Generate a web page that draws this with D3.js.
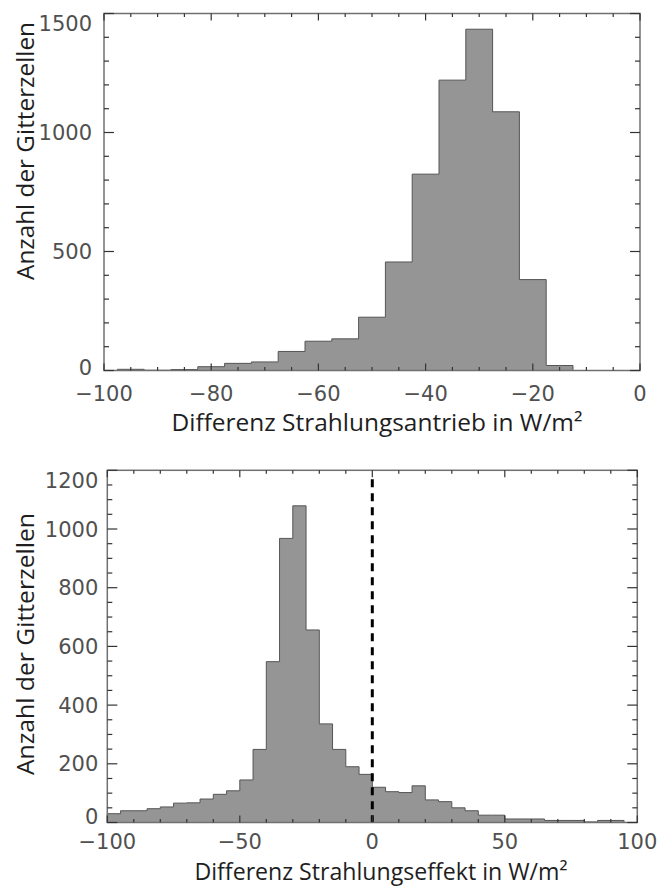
<html>
<head>
<meta charset="UTF-8">
<title>Strahlungsantrieb / Strahlungseffekt</title>
<script src="https://cdn.jsdelivr.net/npm/d3@7/dist/d3.min.js"></script>
<style>
  body { margin: 0; background: #fff; }
  .tick-lab { font-family: "DejaVu Sans", sans-serif; font-size: 21px; fill: #505050; }
  .ax-title { font-family: "Open Sans", "Noto Sans", sans-serif; fill: #1e1e1e; }
</style>
</head>
<body>
<div id="chart"></div>
<script>
// --- oberes Histogramm: Differenz Strahlungsantrieb ---
var forcingBinLeft = [-97.5, -92.5, -87.5, -82.5, -77.5, -72.5, -67.5, -62.5, -57.5,
                      -52.5, -47.5, -42.5, -37.5, -32.5, -27.5, -22.5, -17.5];
var forcingCounts  = [5, 1, 4, 16, 30, 36, 80, 123, 133,
                      224, 456, 825, 1220, 1434, 1087, 382, 21];
var forcingXTicks  = [-100, -80, -60, -40, -20, 0];
var forcingYTicks  = [0, 500, 1000, 1500];

// --- unteres Histogramm: Differenz Strahlungseffekt ---
var effectBinLeft = [-100, -95, -90, -85, -80, -75, -70, -65, -60, -55,
                     -50, -45, -40, -35, -30, -25, -20, -15, -10, -5,
                     0, 5, 10, 15, 20, 25, 30, 35, 40, 45,
                     50, 55, 60, 65, 70, 75, 80, 85, 90, 95];
var effectCounts  = [30, 40, 40, 47, 53, 66, 67, 80, 96, 108,
                     145, 249, 548, 968, 1079, 656, 336, 249, 190, 164,
                     120, 105, 102, 125, 77, 71, 50, 40, 25, 25,
                     12, 12, 12, 7, 7, 7, 2, 7, 7, 0];
var effectXTicks  = [-100, -50, 0, 50, 100];
var effectYTicks  = [0, 200, 400, 600, 800, 1000, 1200];

var W = 669, H = 887;
var svg = d3.select("#chart").append("svg")
    .attr("width", W).attr("height", H)
    .style("display", "block");
svg.append("rect").attr("width", W).attr("height", H).attr("fill", "#fff");

function fmt(v) { return v < 0 ? "\u2212" + Math.abs(v) : String(v); }

function drawHist(c) {
    var x = d3.scaleLinear().domain(c.xDom).range([c.left, c.right]);
    var y = d3.scaleLinear().domain(c.yDom).range([c.bottom, c.top]);
    var g = svg.append("g");
    var bins = c.binLeft.map(function(b, i) { return { x0: b, x1: b + c.binW, n: c.counts[i] }; });

    // treppenkurve: flaeche + umriss
    var pts = [[bins[0].x0, 0]];
    bins.forEach(function(d) { pts.push([d.x0, d.n]); });
    var last = bins[bins.length - 1];
    pts.push([last.x1, last.n]); pts.push([last.x1, 0]);
    var line = d3.line().x(function(p) { return x(p[0]); }).y(function(p) { return y(p[1]); })
        .curve(d3.curveStepAfter);
    g.append("path").attr("d", line(pts) + "Z").attr("fill", "#959595").attr("stroke", "none");
    g.append("path").attr("d", line(pts)).attr("fill", "none")
        .attr("stroke", "#555").attr("stroke-width", 1);

    // nulllinie gestrichelt
    if (c.zeroLine) {
        g.append("line")
            .attr("x1", x(0)).attr("x2", x(0))
            .attr("y1", c.top + 9).attr("y2", c.bottom)
            .attr("stroke", "#000").attr("stroke-width", 3)
            .attr("stroke-dasharray", "8,6");
    }

    // rahmen
    g.append("rect")
        .attr("x", c.left).attr("y", c.top)
        .attr("width", c.right - c.left).attr("height", c.bottom - c.top)
        .attr("fill", "none").attr("stroke", "#707070").attr("stroke-width", 1.5);

    // ticks innen, alle vier seiten
    var xMaj = 7, xMin = 3.5, yMaj = 10, yMin = 5;
    var tk = g.append("g").attr("stroke", "#333").attr("stroke-width", 1.2);
    d3.range(c.xDom[0], c.xDom[1] + 0.001, c.xMinorStep).forEach(function(v) {
        var isMaj = c.xTicks.indexOf(v) >= 0, L = isMaj ? xMaj : xMin;
        tk.append("line").attr("x1", x(v)).attr("x2", x(v)).attr("y1", c.bottom).attr("y2", c.bottom - L);
        tk.append("line").attr("x1", x(v)).attr("x2", x(v)).attr("y1", c.top).attr("y2", c.top + L);
    });
    d3.range(c.yDom[0], c.yDom[1] + 0.001, c.yMinorStep).forEach(function(v) {
        var isMaj = c.yTicks.indexOf(v) >= 0, L = isMaj ? yMaj : yMin;
        tk.append("line").attr("y1", y(v)).attr("y2", y(v)).attr("x1", c.left).attr("x2", c.left + L);
        tk.append("line").attr("y1", y(v)).attr("y2", y(v)).attr("x1", c.right).attr("x2", c.right - L);
    });

    // tick-beschriftung
    g.selectAll("text.xl").data(c.xTicks).enter().append("text")
        .attr("class", "tick-lab")
        .attr("x", function(d) { return x(d); })
        .attr("y", c.bottom + c.xLabOff)
        .attr("text-anchor", "middle")
        .text(fmt);
    g.selectAll("text.yl").data(c.yTicks).enter().append("text")
        .attr("class", "tick-lab")
        .attr("x", c.left - c.yLabGap)
        .attr("y", function(d) {
            var yy = y(d);
            yy = Math.max(yy, c.top + 10);
            yy = Math.min(yy, c.bottom - c.yLabBotPad);
            return yy + 7.5;
        })
        .attr("text-anchor", "end")
        .text(fmt);

    // achsentitel
    g.append("text").attr("class", "ax-title")
        .attr("x", c.xTitleX).attr("y", c.xTitleY)
        .attr("text-anchor", "middle")
        .attr("font-size", 23)
        .attr("textLength", c.xTitleLen).attr("lengthAdjust", "spacingAndGlyphs")
        .text(c.xTitle);
    g.append("text").attr("class", "ax-title")
        .attr("transform", "translate(" + c.yTitleX + "," + c.yTitleY + ") rotate(-90)")
        .attr("text-anchor", "middle")
        .attr("font-size", 24)
        .attr("textLength", c.yTitleLen).attr("lengthAdjust", "spacingAndGlyphs")
        .text("Anzahl der Gitterzellen");
}

drawHist({
    binLeft: forcingBinLeft, counts: forcingCounts, binW: 5,
    xDom: [-100, 0], yDom: [0, 1500],
    left: 104, right: 640, top: 13.5, bottom: 370.5,
    xTicks: forcingXTicks, yTicks: forcingYTicks, xMinorStep: 5, yMinorStep: 100,
    xLabOff: 30, yLabBotPad: 3.5, yLabGap: 12,
    xTitle: "Differenz Strahlungsantrieb in W/m\u00b2", xTitleX: 377, xTitleY: 431, xTitleLen: 411,
    yTitleX: 34, yTitleY: 151, yTitleLen: 258,
    zeroLine: false
});

drawHist({
    binLeft: effectBinLeft, counts: effectCounts, binW: 5,
    xDom: [-100, 100], yDom: [0, 1200],
    left: 107.3, right: 637.3, top: 470.3, bottom: 822.5,
    xTicks: effectXTicks, yTicks: effectYTicks, xMinorStep: 10, yMinorStep: 50,
    xLabOff: 26, yLabBotPad: 6.5, yLabGap: 9,
    xTitle: "Differenz Strahlungseffekt in W/m\u00b2", xTitleX: 381, xTitleY: 880, xTitleLen: 373,
    yTitleX: 34, yTitleY: 644, yTitleLen: 262,
    zeroLine: true
});
</script>
</body>
</html>
